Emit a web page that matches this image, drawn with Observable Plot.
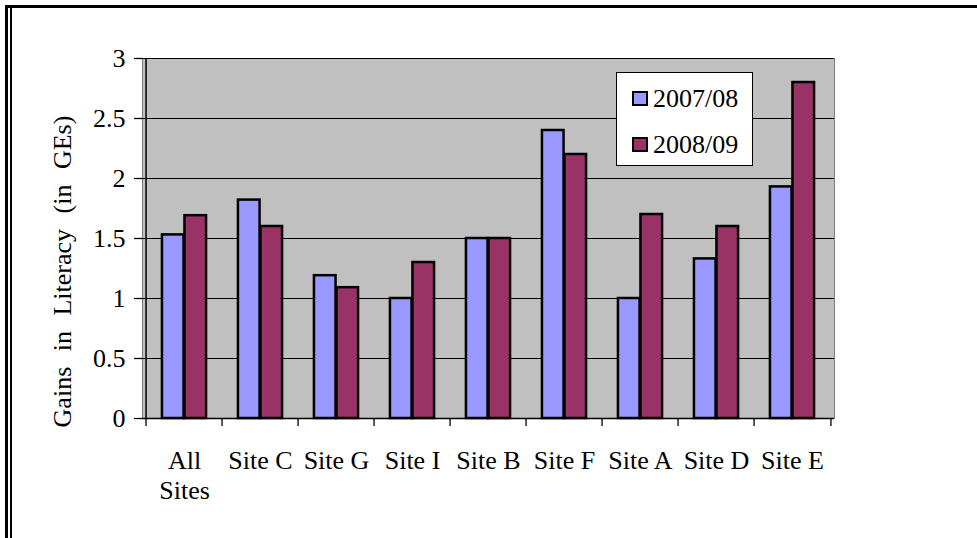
<!DOCTYPE html>
<html>
<head>
<meta charset="utf-8">
<script src="https://cdn.jsdelivr.net/npm/d3@7"></script>
<script src="https://cdn.jsdelivr.net/npm/@observablehq/plot@0.6"></script>
<style>
  html, body { margin: 0; padding: 0; background: #fff; }
  #wrap { position: relative; width: 977px; height: 538px; overflow: hidden; font-family: 'Liberation Serif', 'Times New Roman', serif; }
  #chart { position: absolute; left: 0; top: 0; }
  .bd { position: absolute; background: #000; }
  #legend { position: absolute; left: 616px; top: 72px; width: 137px; height: 94px; background: #fff; border: 1.5px solid #000; box-sizing: border-box; }
  .item { position: absolute; left: 15px; font-size: 26px; line-height: 26px; white-space: nowrap; font-family: 'Liberation Serif', 'Times New Roman', serif; }
  .sw { display: inline-block; width: 12px; height: 11px; border: 2px solid #000; margin-right: 5px; vertical-align: 1px; }
</style>
</head>
<body>
<div id="wrap">
  <div id="chart"></div>
  <div class="bd" style="left:5px; top:5px; width:972px; height:3px;"></div>
  <div class="bd" style="left:5px; top:5px; width:3px; height:533px;"></div>
  <div class="bd" style="left:10px; top:8px; width:1.5px; height:530px;"></div>
  <div id="legend"></div>
</div>
<script>
const sites = ["All\nSites", "Site C", "Site G", "Site I", "Site B", "Site F", "Site A", "Site D", "Site E"];
const series = ["2007/08", "2008/09"];
const values2007 = [1.53, 1.82, 1.19, 1.00, 1.50, 2.40, 1.00, 1.33, 1.93];
const values2008 = [1.69, 1.60, 1.09, 1.30, 1.50, 2.20, 1.70, 1.60, 2.80];
const colors = ["#9999ff", "#993366"];
const yTicks = [0, 0.5, 1, 1.5, 2, 2.5, 3];

const W = 977, H = 538, ML = 142, MR = 143, MT = 58, MB = 120;
const bw = (W - ML - MR) / sites.length;
const barW = 22.5;
const gap = (bw - 2 * barW) / 2;

const rows2007 = sites.map((s, i) => ({site: s, year: series[0], value: values2007[i]}));
const rows2008 = sites.map((s, i) => ({site: s, year: series[1], value: values2008[i]}));

const font = "'Liberation Serif', 'Times New Roman', serif";

const plot = Plot.plot({
  width: W, height: H,
  marginLeft: ML, marginRight: MR, marginTop: MT, marginBottom: MB,
  style: {fontFamily: font, fontSize: "26px", background: "transparent", color: "#000", overflow: "visible"},
  x: {type: "band", domain: sites, padding: 0, axis: null},
  y: {domain: [0, 3], axis: null},
  marks: [
    Plot.frame({fill: "#c0c0c0", stroke: "#808080"}),
    Plot.gridY(yTicks, {stroke: "#000", strokeOpacity: 1, strokeWidth: 1}),
    Plot.barY(rows2007, {x: "site", y: "value", fill: colors[0], stroke: "#000", strokeWidth: 2.5, insetLeft: gap, insetRight: bw - gap - barW}),
    Plot.barY(rows2008, {x: "site", y: "value", fill: colors[1], stroke: "#000", strokeWidth: 2.5, insetLeft: gap + barW, insetRight: gap}),
    Plot.ruleY([0], {stroke: "#000", strokeWidth: 1.5}),
    Plot.ruleX([sites[0]], {stroke: "#000", strokeWidth: 1.5, dx: -bw / 2}),
    Plot.axisY({ticks: yTicks, tickFormat: d => String(d), tickSize: 8, tickPadding: 9, fontSize: 26, label: null, stroke: "#000", strokeWidth: 1.3}),
    Plot.axisX({tickSize: 8, tickFormat: () => "", dx: -bw / 2, label: null, strokeWidth: 1.3}),
    Plot.axisX({ticks: [sites[sites.length - 1]], tickSize: 8, tickFormat: () => "", dx: bw / 2, label: null, strokeWidth: 1.3}),
    Plot.axisX({tickSize: 0, tickPadding: 29, fontSize: 26, lineHeight: 1.15, label: null}),
    Plot.text(["Gains in Literacy (in GEs)"], {frameAnchor: "left", textAnchor: "middle", rotate: -90, dx: -80, dy: 33, fontSize: 26, fill: "#000"})
  ]
});
document.getElementById("chart").appendChild(plot);
d3.select(plot).selectAll("text").filter(function() { return this.textContent.startsWith("Gains"); }).style("word-spacing", "9px");

const legend = document.getElementById("legend");
series.forEach((s, i) => {
  const d = document.createElement("div");
  d.className = "item";
  d.style.top = (i === 0 ? 13 : 59) + "px";
  d.innerHTML = `<span class="sw" style="background:${colors[i]}"></span>${s}`;
  legend.appendChild(d);
});
</script>
</body>
</html>
